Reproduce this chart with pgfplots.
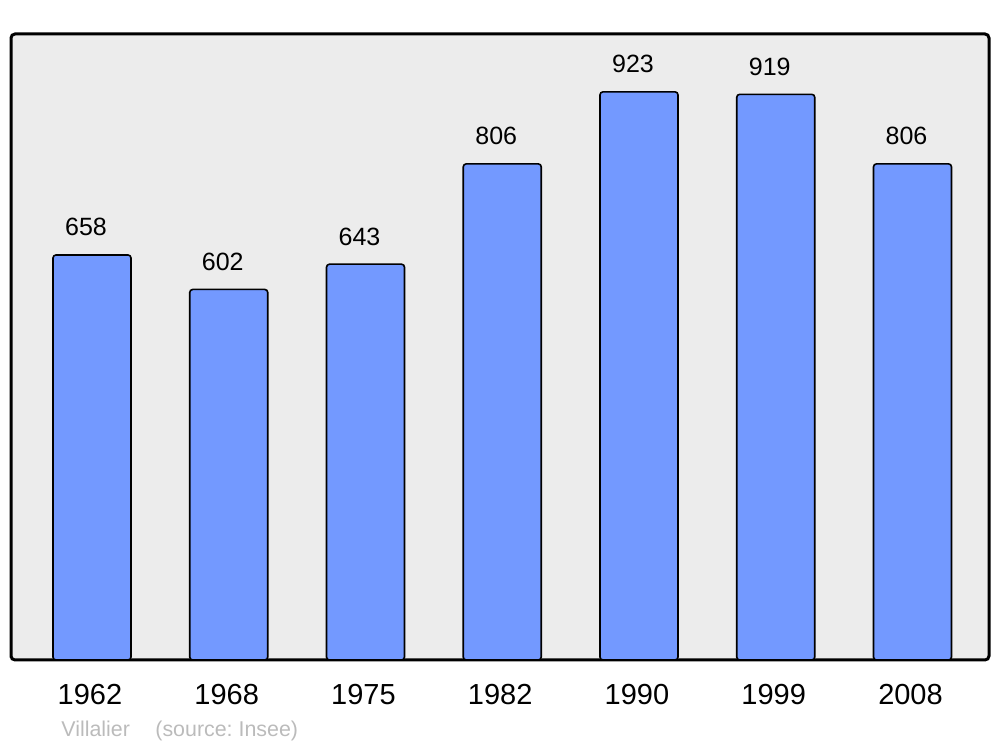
\documentclass[border=0pt]{standalone}
\usepackage{pgfplots}
\pgfplotsset{compat=1.18}
\usepackage{fontspec}
\setmainfont{Liberation Sans}
\frenchspacing
\definecolor{barblue}{HTML}{7399FF}
\definecolor{bggray}{HTML}{ECECEC}
\definecolor{srcgray}{HTML}{BBBBBB}
\begin{document}
\begin{tikzpicture}
\useasboundingbox (-5.5pt,-43.5pt) rectangle (494.5pt,330pt);
\begin{axis}[
  at={(0pt,0pt)}, anchor=south west,
  scale only axis, width=489pt, height=313pt,
  xmin=-0.5923, xmax=6.5594, ymin=0, ymax=1017,
  axis background/.style={fill=bggray, rounded corners=2pt},
  axis line style={line width=1.5pt, rounded corners=2pt},
  ytick=\empty,
  xtick={0,1,2,3,4,5,6},
  xticklabels={1962,1968,1975,1982,1990,1999,2008},
  major tick length=0pt,
  xticklabel style={anchor=base, yshift=-22.5pt, xshift=-1pt, font=\fontsize{14.5pt}{16pt}\selectfont},
  ybar, bar width=39pt, bar shift=0pt,
  /pgf/number format/assume math mode=true,
  nodes near coords,
  every node near coord/.append style={anchor=base, yshift=9.5pt, xshift=-3pt, font=\fontsize{12.5pt}{14pt}\selectfont, text=black},
]
\addplot[fill=barblue, draw=black, line width=0.8pt, rounded corners=1.5pt] coordinates {
(0,658) (1,602) (2,643) (3,806) (4,923) (5,919) (6,806)};
\end{axis}
\node[anchor=base west, inner sep=0pt, text=srcgray, font=\fontsize{10.7pt}{12pt}\selectfont] at (25pt,-38.5pt) {Villalier};
\node[anchor=base west, inner sep=0pt, text=srcgray, font=\fontsize{10.7pt}{12pt}\selectfont] at (72pt,-38.5pt) {(source: Insee)};
\end{tikzpicture}
\end{document}
